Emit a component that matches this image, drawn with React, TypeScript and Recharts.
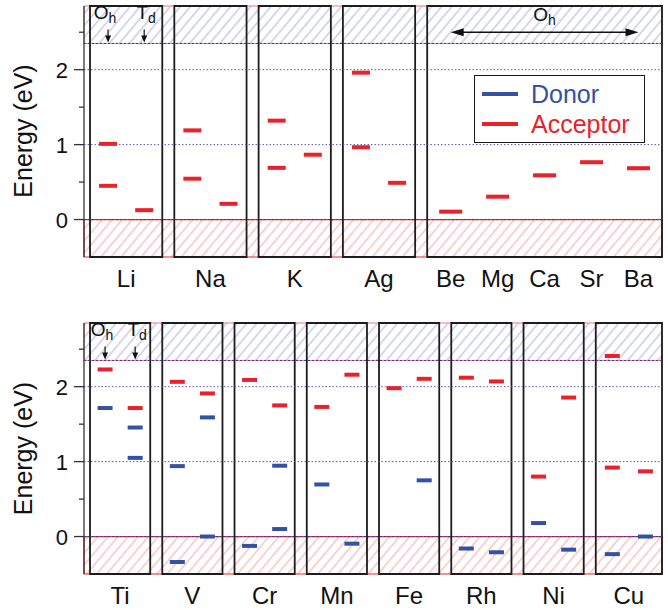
import React from "react"
import { ComposedChart, Scatter, XAxis, YAxis, ReferenceArea, ReferenceLine, Legend } from "recharts"

const FONT = '"Liberation Sans", Arial, Helvetica, sans-serif'
const RED = "#e8222b"
const BLUE = "#3451a3"

// top panel: monovalent dopants sit on Oh and Td sites, alkaline earths only on Oh
const monoElements = ["Li", "Na", "K", "Ag"]
const monoOhAcceptor = [[1.01, 0.45], [1.19, 0.545], [1.32, 0.69], [1.96, 0.965]]
const monoTdAcceptor = [[0.125], [0.21], [0.865], [0.49]]
const earthElements = ["Be", "Mg", "Ca", "Sr", "Ba"]
const earthOhAcceptor = [0.105, 0.305, 0.59, 0.765, 0.685]

// bottom panel: transition metals
const tmElements = ["Ti", "V", "Cr", "Mn", "Fe", "Rh", "Ni", "Cu"]
const tmOhAcceptor = [[2.23], [2.065], [2.09], [1.73], [1.98], [2.12], [0.8], [2.41, 0.92]]
const tmOhDonor = [[1.715], [0.94, -0.34], [-0.125], [0.695], [], [-0.16], [0.18], [-0.235]]
const tmTdAcceptor = [[1.715], [1.91], [1.75], [2.16], [2.105], [2.07], [1.855], [0.87]]
const tmTdDonor = [[1.455, 1.05], [1.59, 0.0], [0.945, 0.1], [-0.095], [0.75], [-0.21], [-0.175], [0.0]]

const yTicks = [0, 0.5, 1, 1.5, 2, 2.5]
const gridLevels = [1, 2]
const VBM = 0
const CBM = 2.35
const Y_MIN = -0.5
const Y_MAX = 2.85
const X_MAX = 48
const legendNames = ["Donor", "Acceptor"]
const legendColors = [BLUE, RED]

// layout in x units
const monoBoxes = monoElements.map((_, i) => [7 * i + 0.5, 7 * i + 6.5])
const earthBox = [28.5, X_MAX]
const earthSlots = earthElements.map((_, j) => earthBox[0] + ((j + 0.5) * (earthBox[1] - earthBox[0])) / earthElements.length)
const tmBoxes = tmElements.map((_, i) => [6 * i + 0.5, i === tmElements.length - 1 ? X_MAX : 6 * i + 5.5])

const center = (b: number[]) => (b[0] + b[1]) / 2
const ohSite = (b: number[]) => center(b) - (b[1] - b[0]) / 4
const tdSite = (b: number[]) => center(b) + (b[1] - b[0]) / 4

const sitePoints = (boxes: number[][], oh: number[][], td: number[][]) =>
  boxes.flatMap((b, i) => [
    ...oh[i].map((y) => ({ x: ohSite(b), y })),
    ...td[i].map((y) => ({ x: tdSite(b), y })),
  ])

const monoAcc = sitePoints(monoBoxes, monoOhAcceptor, monoTdAcceptor)
const earthAcc = earthOhAcceptor.map((y, j) => ({ x: earthSlots[j], y }))
const tmAcc = sitePoints(tmBoxes, tmOhAcceptor, tmTdAcceptor)
const tmDon = sitePoints(tmBoxes, tmOhDonor, tmTdDonor)

const topTicks = [...monoBoxes.map(center), ...earthSlots]
const topLabels = [...monoElements, ...earthElements]
const bottomTicks = tmBoxes.map(center)

const levelBar = (w: number, color: string) => (p: any) => (
  <rect x={p.cx - w / 2} y={p.cy - 2} width={w} height={4} fill={color} />
)

const siteMarker = (p: any) => {
  const { cx, cy, payload } = p
  const dx = payload.site === "Oh" ? -3 : 2
  return (
    <g>
      <line x1={cx} x2={cx} y1={cy - 14} y2={cy - 6} stroke="#111" strokeWidth={1.2} />
      <polygon points={`${cx - 3},${cy - 8} ${cx + 3},${cy - 8} ${cx},${cy - 1}`} fill="#111" />
      <text x={cx + dx} y={cy - 24} textAnchor="middle" fontSize={19} fontFamily={FONT} fill="#111">
        {payload.site[0]}
        <tspan fontSize={14} dy={4}>{payload.site[1]}</tspan>
      </text>
    </g>
  )
}

const doubleArrow = (p: any) => {
  const { x1, y1, x2 } = p
  const mid = (x1 + x2) / 2
  return (
    <g>
      <line x1={x1 + 10} x2={x2 - 10} y1={y1} y2={y1} stroke="#111" strokeWidth={1.5} />
      <polygon points={`${x1},${y1} ${x1 + 13},${y1 - 4} ${x1 + 13},${y1 + 4}`} fill="#111" />
      <polygon points={`${x2},${y1} ${x2 - 13},${y1 - 4} ${x2 - 13},${y1 + 4}`} fill="#111" />
      <text x={mid} y={y1 - 11} textAnchor="middle" fontSize={19} fontFamily={FONT} fill="#111">
        O<tspan fontSize={14} dy={4}>h</tspan>
      </text>
    </g>
  )
}

function EnergyTick(props: any) {
  const { x, y, payload } = props
  const major = Number.isInteger(payload.value)
  return (
    <g>
      <line x1={x} x2={x - (major ? 10 : 5)} y1={y} y2={y} stroke="#333" strokeWidth={1.3} />
      {major && (
        <text x={x - 16} y={y + 8} textAnchor="end" fontSize={22} fontFamily={FONT} fill="#111">
          {payload.value}
        </text>
      )}
    </g>
  )
}

const elementTick = (ticks: number[], labels: string[]) => (props: any) => {
  const { x, y, payload } = props
  const idx = ticks.findIndex((t) => Math.abs(t - payload.value) < 1e-6)
  return (
    <text x={x} y={y + 30} textAnchor="middle" fontSize={24} fontFamily={FONT} fill="#111">
      {labels[idx]}
    </text>
  )
}

const renderLegend = () => (
  <div
    style={{
      boxSizing: "border-box",
      width: 171,
      height: 68,
      border: "1.6px solid #1a1a1a",
      background: "#fff",
      paddingTop: 3,
      fontFamily: FONT,
    }}
  >
    {legendNames.map((name, i) => (
      <div key={name} style={{ display: "flex", alignItems: "center", height: 30 }}>
        <span style={{ display: "inline-block", width: 36, height: 4, marginLeft: 7, background: legendColors[i] }} />
        <span style={{ marginLeft: 13, fontSize: 25, color: legendColors[i], lineHeight: "30px" }}>{name}</span>
      </div>
    ))}
  </div>
)

function Backdrop({ id }: { id: string }) {
  return (
    <defs>
      <pattern id={`${id}-blue`} patternUnits="userSpaceOnUse" width={7.7} height={7.7} patternTransform="rotate(40)">
        <line x1={3.8} y1={0} x2={3.8} y2={7.7} stroke="#bcbce2" strokeWidth={1.2} />
      </pattern>
      <pattern id={`${id}-red`} patternUnits="userSpaceOnUse" width={7.7} height={7.7} patternTransform="rotate(40)">
        <line x1={3.8} y1={0} x2={3.8} y2={7.7} stroke="#f5b5b5" strokeWidth={1.2} />
      </pattern>
    </defs>
  )
}

function bandLayers(id: string) {
  return [
    <ReferenceArea key="cb" x1={0} x2={X_MAX} y1={CBM} y2={Y_MAX} fill={`url(#${id}-blue)`} fillOpacity={1} stroke="#ef7b7b" strokeWidth={1} />,
    <ReferenceArea key="vb" x1={0} x2={X_MAX} y1={Y_MIN} y2={VBM} fill={`url(#${id}-red)`} fillOpacity={1} stroke="#e42a2a" strokeWidth={1.2} />,
    ...gridLevels.map((g) => (
      <ReferenceLine key={`g${g}`} y={g} stroke="#5a5ab8" strokeWidth={1} strokeDasharray="1.5 2" />
    )),
    ...[VBM, CBM].map((e) => (
      <ReferenceLine key={`e${e}`} y={e} stroke="#3a3aa8" strokeWidth={1} strokeDasharray="2 2" />
    )),
  ]
}

function EnergyLabel({ cy }: { cy: number }) {
  return (
    <text x={32} y={cy} transform={`rotate(-90 32 ${cy})`} textAnchor="middle" fontSize={25} fontFamily={FONT} fill="#111">
      Energy (eV)
    </text>
  )
}

const yAxisProps = {
  type: "number" as const,
  dataKey: "y",
  domain: [Y_MIN, Y_MAX],
  allowDataOverflow: true,
  ticks: yTicks,
  interval: 0 as const,
  tick: <EnergyTick />,
  tickSize: 0,
  tickMargin: 0,
  tickLine: false,
  axisLine: { stroke: "#333", strokeWidth: 1.3 },
  width: 60,
}

function TopPanel() {
  return (
    <ComposedChart width={668} height={300} margin={{ top: 6, right: 6, bottom: 0, left: 24 }}>
      <Backdrop id="top" />
      {bandLayers("top")}
      {monoBoxes.map((b, i) => (
        <ReferenceArea key={`mb${i}`} x1={b[0]} x2={b[1]} y1={Y_MIN} y2={Y_MAX} fill="none" stroke="#1c1c1c" strokeWidth={1.8} />
      ))}
      <ReferenceArea x1={earthBox[0]} x2={earthBox[1]} y1={Y_MIN} y2={Y_MAX} fill="none" stroke="#1c1c1c" strokeWidth={1.8} />
      <ReferenceLine
        segment={[{ x: earthSlots[0], y: 2.5 }, { x: earthSlots[earthSlots.length - 1], y: 2.5 }]}
        shape={doubleArrow}
      />
      <XAxis
        type="number"
        dataKey="x"
        domain={[0, X_MAX]}
        allowDataOverflow
        ticks={topTicks}
        interval={0}
        tick={elementTick(topTicks, topLabels)}
        tickSize={0}
        tickMargin={0}
        tickLine={false}
        axisLine={false}
        height={43}
      />
      <YAxis {...yAxisProps} />
      <Scatter
        name="site"
        data={[{ x: ohSite(monoBoxes[0]), y: CBM, site: "Oh" }, { x: tdSite(monoBoxes[0]), y: CBM, site: "Td" }]}
        shape={siteMarker}
        isAnimationActive={false}
      />
      <Scatter name="Acceptor" data={monoAcc} shape={levelBar(18, RED)} isAnimationActive={false} />
      <Scatter name="Acceptor" data={earthAcc} shape={levelBar(23, RED)} isAnimationActive={false} />
      <Legend
        content={renderLegend}
        layout="horizontal"
        verticalAlign="middle"
        align="center"
        wrapperStyle={{ position: "absolute", left: 474, top: 75, width: 171, height: 68 }}
      />
      <EnergyLabel cy={131} />
    </ComposedChart>
  )
}

function BottomPanel() {
  return (
    <ComposedChart width={668} height={310} margin={{ top: 23, right: 6, bottom: 0, left: 24 }}>
      <Backdrop id="bot" />
      {bandLayers("bot")}
      {tmBoxes.map((b, i) => (
        <ReferenceArea key={`tb${i}`} x1={b[0]} x2={b[1]} y1={Y_MIN} y2={Y_MAX} fill="none" stroke="#1c1c1c" strokeWidth={1.8} />
      ))}
      <XAxis
        type="number"
        dataKey="x"
        domain={[0, X_MAX]}
        allowDataOverflow
        ticks={bottomTicks}
        interval={0}
        tick={elementTick(bottomTicks, tmElements)}
        tickSize={0}
        tickMargin={0}
        tickLine={false}
        axisLine={false}
        height={36}
      />
      <YAxis {...yAxisProps} />
      <Scatter
        name="site"
        data={[{ x: ohSite(tmBoxes[0]), y: CBM, site: "Oh" }, { x: tdSite(tmBoxes[0]), y: CBM, site: "Td" }]}
        shape={siteMarker}
        isAnimationActive={false}
      />
      <Scatter name="Donor" data={tmDon} shape={levelBar(15, BLUE)} isAnimationActive={false} />
      <Scatter name="Acceptor" data={tmAcc} shape={levelBar(15, RED)} isAnimationActive={false} />
      <EnergyLabel cy={148.5} />
    </ComposedChart>
  )
}

export default function App() {
  return (
    <div style={{ position: "absolute", left: 0, top: 0, width: 668, height: 610, background: "#fff" }}>
      <TopPanel />
      <BottomPanel />
    </div>
  )
}
